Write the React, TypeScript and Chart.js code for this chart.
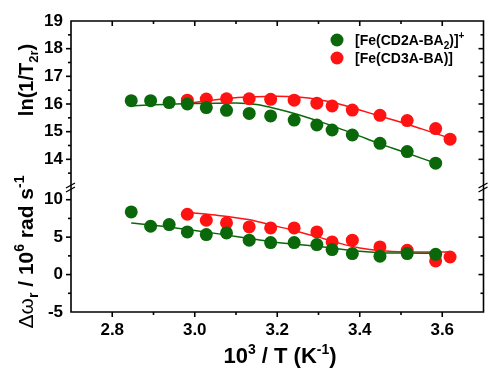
import React, { useEffect, useRef } from 'react';
import { Chart, registerables } from 'chart.js';
Chart.register(...registerables);

const GREEN = '#0a680a';
const RED = '#ff1212';
const FONT = "'Liberation Sans', Arial, sans-serif";

// tick labels
const xTicks = [2.8, 3.0, 3.2, 3.4, 3.6];
const lnTicks = [14, 15, 16, 17, 18, 19];
const dwTicks = [-5, 0, 5, 10];

// [Fe(CD2A-BA2)]+ measured points
const xGreen = [2.846, 2.893, 2.938, 2.982, 3.028, 3.077, 3.132, 3.184, 3.241, 3.296, 3.333, 3.382, 3.449, 3.515, 3.584];
const lnGreen = [16.12, 16.12, 16.05, 16.0, 15.87, 15.77, 15.66, 15.57, 15.42, 15.24, 15.06, 14.88, 14.58, 14.28, 13.86];
const dwGreen = [8.37, 6.46, 6.68, 5.7, 5.35, 5.56, 4.59, 4.28, 4.28, 4.01, 3.34, 2.81, 2.45, 2.81, 2.71];

// [Fe(CD3A-BA)] measured points
const xRed = [2.982, 3.028, 3.077, 3.132, 3.184, 3.241, 3.296, 3.333, 3.382, 3.449, 3.515, 3.584, 3.619];
const lnRed = [16.14, 16.18, 16.19, 16.19, 16.17, 16.14, 16.03, 15.93, 15.78, 15.59, 15.4, 15.11, 14.73];
const dwRed = [8.06, 7.26, 6.9, 6.36, 6.23, 6.23, 5.7, 4.36, 4.59, 3.69, 3.25, 1.82, 2.35];

// fitted curves
const fitLnGreenX = [2.846, 2.9, 3.0, 3.1, 3.15, 3.2, 3.25, 3.3, 3.35, 3.4, 3.45, 3.5, 3.584];
const fitLnGreenY = [15.93, 15.97, 16.02, 16.04, 15.98, 15.82, 15.62, 15.38, 15.12, 14.84, 14.56, 14.3, 13.86];
const fitLnRedX = [2.982, 3.03, 3.08, 3.13, 3.2, 3.25, 3.3, 3.35, 3.4, 3.45, 3.5, 3.55, 3.619];
const fitLnRedY = [16.02, 16.12, 16.2, 16.25, 16.28, 16.25, 16.16, 16.0, 15.78, 15.56, 15.34, 15.1, 14.76];
const fitDwGreenX = [2.846, 2.9, 3.0, 3.1, 3.15, 3.2, 3.3, 3.4, 3.45, 3.5, 3.584];
const fitDwGreenY = [6.9, 6.6, 5.9, 5.1, 4.7, 4.3, 3.75, 3.1, 2.92, 2.88, 2.85];
const fitDwRedX = [2.982, 3.05, 3.13, 3.18, 3.24, 3.3, 3.35, 3.4, 3.45, 3.52, 3.619];
const fitDwRedY = [8.3, 7.95, 7.35, 6.7, 5.9, 5.0, 4.2, 3.55, 3.18, 3.03, 3.0];

const pts = (xs: number[], ys: number[]) => xs.map((x, i) => ({ x, y: ys[i] }));

type Run = { t: string; s: number; w?: string; dy?: number; f?: string; width?: number };

function drawRuns(ctx: CanvasRenderingContext2D, runs: Run[], x: number, y: number, center: boolean) {
  let total = 0;
  for (const r of runs) {
    ctx.font = `${r.w || 'bold'} ${r.s}px ${r.f || FONT}`;
    r.width = ctx.measureText(r.t).width;
    total += r.width;
  }
  let cx = center ? x - total / 2 : x;
  for (const r of runs) {
    ctx.font = `${r.w || 'bold'} ${r.s}px ${r.f || FONT}`;
    ctx.fillText(r.t, cx, y + (r.dy || 0));
    cx += r.width || 0;
  }
}

const overlay = {
  id: 'overlay',
  afterDraw(chart: any) {
    const ctx: CanvasRenderingContext2D = chart.ctx;
    const { left, right, top, bottom } = chart.chartArea;
    const sx = chart.scales.x;
    const su = chart.scales.yU;
    const sl = chart.scales.yL;
    ctx.save();
    ctx.strokeStyle = '#000';
    ctx.fillStyle = '#000';
    ctx.lineWidth = 1.6;
    ctx.lineCap = 'butt';
    // frame
    ctx.beginPath();
    ctx.rect(left, top, right - left, bottom - top);
    ctx.stroke();
    const line = (x1: number, y1: number, x2: number, y2: number) => {
      ctx.beginPath();
      ctx.moveTo(x1, y1);
      ctx.lineTo(x2, y2);
      ctx.stroke();
    };
    // x ticks
    for (let i = 1; i < 10; i++) {
      const v = 2.7 + i * 0.1;
      const major = i % 2 === 1;
      const px = sx.getPixelForValue(v);
      const L = major ? 5 : 3;
      line(px, bottom, px, bottom + L);
      line(px, top, px, top + L);
    }
    // y ticks upper
    for (let v = 13.5; v <= 18.51; v += 0.5) {
      const major = Math.abs(v - Math.round(v)) < 1e-6;
      const py = su.getPixelForValue(v);
      const L = major ? 5 : 3;
      line(left - L, py, left, py);
      line(right - L, py, right, py);
    }
    // y ticks lower
    for (let v = -2.5; v <= 10.01; v += 2.5) {
      const major = Math.abs(v / 5 - Math.round(v / 5)) < 1e-6;
      const py = sl.getPixelForValue(v);
      const L = major ? 5 : 3;
      line(left - L, py, left, py);
      line(right - L, py, right, py);
    }
    // axis breaks
    const yb = su.bottom + 2;
    ctx.lineWidth = 1.3;
    for (const xb of [left, right]) {
      line(xb - 5, yb - 1, xb + 4, yb - 6);
      line(xb - 5, yb + 3, xb + 4, yb - 2);
    }
    // titles
    ctx.textAlign = 'left';
    ctx.textBaseline = 'alphabetic';
    drawRuns(ctx, [
      { t: '10', s: 22 },
      { t: '3', s: 14, dy: -9 },
      { t: ' / T (K', s: 22 },
      { t: '-1', s: 14, dy: -9 },
      { t: ')', s: 22 },
    ], 280, 363, true);

    ctx.save();
    ctx.translate(33, 80);
    ctx.rotate(-Math.PI / 2);
    drawRuns(ctx, [
      { t: 'ln(1/T', s: 20 },
      { t: '2r', s: 13, dy: 5 },
      { t: ')', s: 20 },
    ], 0, 0, true);
    ctx.restore();

    ctx.save();
    ctx.translate(33, 252);
    ctx.rotate(-Math.PI / 2);
    drawRuns(ctx, [
      { t: '\u0394\u03c9', s: 21, w: 'normal' },
      { t: 'r', s: 14, dy: 5 },
      { t: ' / 10', s: 21 },
      { t: '6', s: 14, dy: -9 },
      { t: ' rad s', s: 21 },
      { t: '-1', s: 14, dy: -9 },
    ], 0, 0, true);
    ctx.restore();

    // legend
    const legend = [
      { c: GREEN, y: 40, runs: [{ t: '[Fe(CD2A-BA', s: 14 }, { t: '2', s: 10, dy: 4 }, { t: ')]', s: 14 }, { t: '+', s: 10, dy: -6 }] },
      { c: RED, y: 58, runs: [{ t: '[Fe(CD3A-BA)]', s: 14 }] },
    ];
    for (const it of legend) {
      ctx.fillStyle = it.c;
      ctx.beginPath();
      ctx.arc(337, it.y, 6.5, 0, Math.PI * 2);
      ctx.fill();
      ctx.fillStyle = '#000';
      drawRuns(ctx, it.runs as Run[], 355, it.y + 5, false);
    }
    ctx.restore();
  },
};

export default function App() {
  const ref = useRef<HTMLCanvasElement>(null);
  useEffect(() => {
    if (!ref.current) return;
    const tickFont = { family: FONT, size: 17, weight: 'bold' as const };
    const hiddenGrid = { display: true, drawOnChartArea: false, drawTicks: true, tickLength: 5, color: 'rgba(0,0,0,0)' };
    const pointDs = (label: string, data: any, axis: string, color: string, order: number) => ({
      label, data, yAxisID: axis, backgroundColor: color, borderColor: color, borderWidth: 0,
      pointRadius: 6.5, pointHoverRadius: 6.5, showLine: false, order,
    });
    const lineDs = (label: string, data: any, axis: string, color: string) => ({
      label, data, yAxisID: axis, borderColor: color, backgroundColor: color, borderWidth: 1.5,
      pointRadius: 0, showLine: true, cubicInterpolationMode: 'monotone' as const, order: 3,
    });
    const chart = new Chart(ref.current, {
      type: 'scatter',
      data: {
        datasets: [
          lineDs('fit ln green', pts(fitLnGreenX, fitLnGreenY), 'yU', GREEN),
          lineDs('fit ln red', pts(fitLnRedX, fitLnRedY), 'yU', RED),
          lineDs('fit dw green', pts(fitDwGreenX, fitDwGreenY), 'yL', GREEN),
          lineDs('fit dw red', pts(fitDwRedX, fitDwRedY), 'yL', RED),
          pointDs('[Fe(CD3A-BA)]', pts(xRed, lnRed), 'yU', RED, 2),
          pointDs('[Fe(CD3A-BA)] dw', pts(xRed, dwRed), 'yL', RED, 2),
          pointDs('[Fe(CD2A-BA2)]+', pts(xGreen, lnGreen), 'yU', GREEN, 1),
          pointDs('[Fe(CD2A-BA2)]+ dw', pts(xGreen, dwGreen), 'yL', GREEN, 1),
        ],
      },
      options: {
        animation: false,
        responsive: false,
        maintainAspectRatio: false,
        events: [],
        layout: { padding: { left: 0, top: 21, right: 2, bottom: 0 } },
        plugins: { legend: { display: false }, tooltip: { enabled: false } },
        scales: {
          x: {
            type: 'linear', position: 'bottom', min: 2.7, max: 3.7,
            grid: hiddenGrid, border: { display: false },
            ticks: { font: tickFont, color: '#000', padding: 3, maxRotation: 0, autoSkip: false, callback: (v: any) => Number(v).toFixed(1) },
            afterBuildTicks: (s: any) => { s.ticks = xTicks.map((v) => ({ value: v })); },
            afterFit: (s: any) => { s.height = 57; },
          },
          yL: {
            type: 'linear', position: 'left', stack: 'y', stackWeight: 125, min: -5, max: 11.7,
            grid: hiddenGrid, border: { display: false },
            ticks: { font: tickFont, color: '#000', padding: 3, autoSkip: false, callback: (v: any) => String(v) },
            afterBuildTicks: (s: any) => { s.ticks = dwTicks.map((v) => ({ value: v })); },
            afterFit: (s: any) => { s.width = 71; },
          },
          yU: {
            type: 'linear', position: 'left', stack: 'y', stackWeight: 166, min: 13, max: 19,
            grid: hiddenGrid, border: { display: false },
            ticks: { font: tickFont, color: '#000', padding: 3, autoSkip: false, callback: (v: any) => String(v) },
            afterBuildTicks: (s: any) => { s.ticks = lnTicks.map((v) => ({ value: v })); },
            afterFit: (s: any) => { s.width = 71; },
          },
        },
      } as any,
      plugins: [overlay],
    });
    return () => chart.destroy();
  }, []);
  return (
    <div style={{ position: 'absolute', left: 0, top: 0, width: 490, height: 369, background: '#fff' }}>
      <canvas ref={ref} width={490} height={369} style={{ display: 'block' }} />
    </div>
  );
}
